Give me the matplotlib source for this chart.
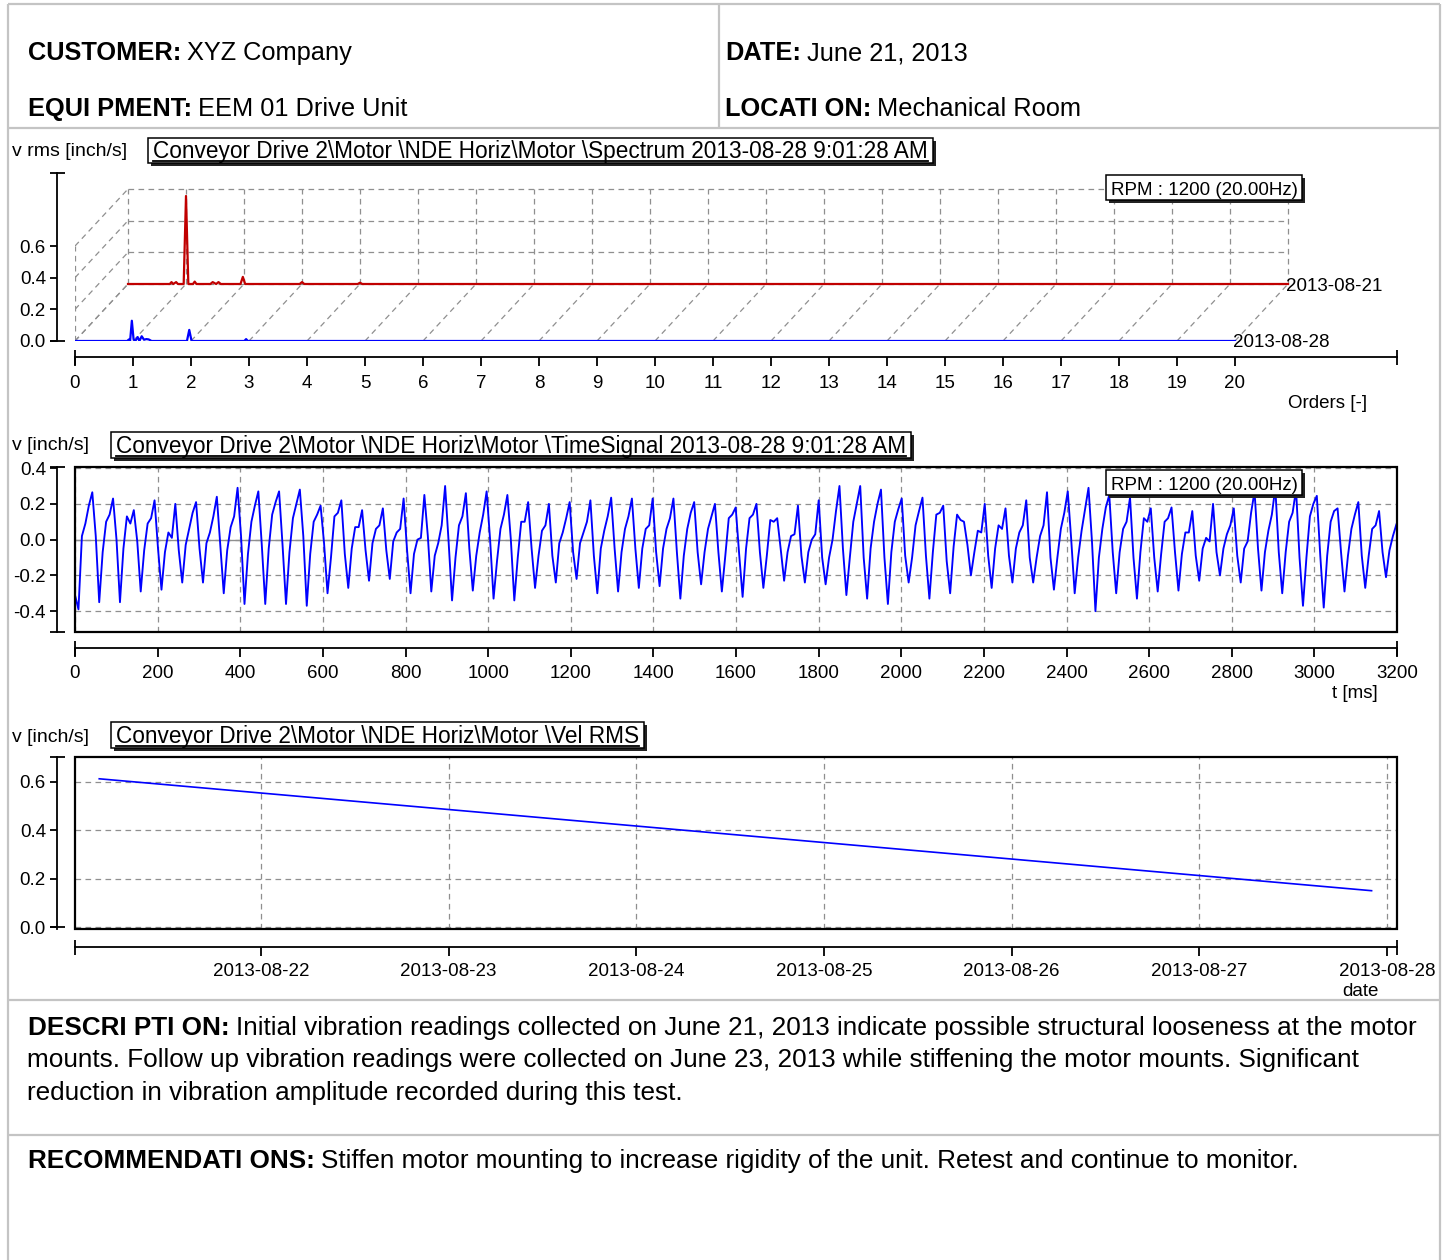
import numpy as np
import matplotlib
matplotlib.use("Agg")
import matplotlib.pyplot as plt
import matplotlib.dates as mdates
from matplotlib.patches import Rectangle
from matplotlib.ticker import FormatStrFormatter
from datetime import datetime

plt.rcParams['font.family'] = ['Liberation Sans', 'DejaVu Sans']
plt.rcParams['axes.unicode_minus'] = False

# ---------------- DATA ----------------
# header / report text
customer = "XYZ Company"
equipment = "EEM 01 Drive Unit"
report_date = "June 21, 2013"
location = "Mechanical Room"
description_lines = [
    "Initial vibration readings collected on June 21, 2013 indicate possible structural looseness at the motor",
    "mounts. Follow up vibration readings were collected on June 23, 2013 while stiffening the motor mounts. Significant",
    "reduction in vibration amplitude recorded during this test.",
]
recommendation = "Stiffen motor mounting to increase rigidity of the unit. Retest and continue to monitor."

title_spec = "Conveyor Drive 2\\Motor \\NDE Horiz\\Motor \\Spectrum 2013-08-28 9:01:28 AM"
title_time = "Conveyor Drive 2\\Motor \\NDE Horiz\\Motor \\TimeSignal 2013-08-28 9:01:28 AM"
title_rms = "Conveyor Drive 2\\Motor \\NDE Horiz\\Motor \\Vel RMS"
rpm_label = "RPM : 1200 (20.00Hz)"

# Spectrum (orders, v rms inch/s)
spec_yticks = [0.0, 0.2, 0.4, 0.6]
spec_xticks = list(range(0, 21))
spec_front_label = "2013-08-28"
spec_back_label = "2013-08-21"
blue_orders = [0, 0.90, 0.93, 0.95, 0.98, 1.01, 1.04, 1.08, 1.11, 1.15, 1.19, 1.23, 1.27, 1.32,
               1.93, 1.97, 2.01, 2.92, 2.95, 2.98, 20]
blue_amp = [0, 0, 0.01, 0.0, 0.128, 0.01, 0.0, 0.025, 0.0, 0.03, 0.008, 0.012, 0.01, 0,
            0, 0.07, 0, 0, 0.012, 0, 0]
red_orders = [0, 0.72, 0.75, 0.78, 0.83, 0.86, 0.89, 0.96, 1.0, 1.04, 1.12, 1.15, 1.18,
              1.42, 1.46, 1.52, 1.56, 1.6, 1.94, 1.98, 2.02, 2.96, 3.0, 3.04, 3.96, 4.0, 4.04, 20]
red_amp = [0, 0, 0.012, 0, 0.012, 0, 0, 0, 0.556, 0.0, 0, 0.015, 0,
           0, 0.012, 0, 0.012, 0, 0, 0.045, 0, 0, 0.012, 0, 0, 0.008, 0, 0]

# Time signal (v inch/s), sampled every 8.373 ms, rows = one shaft revolution
time_dt_ms = 8.373
time_yticks = [-0.4, -0.2, 0.0, 0.2, 0.4]
time_xticks = list(range(0, 3201, 200))
time_start = [-0.31]
time_cycles = [
    [-0.39, 0.02, 0.09, 0.19, 0.265, 0.02],
    [-0.35, -0.07, 0.10, 0.14, 0.23, 0.00],
    [-0.35, -0.05, 0.13, 0.09, 0.165, -0.01],
    [-0.29, -0.06, 0.09, 0.12, 0.22, -0.05],
    [-0.28, -0.07, 0.04, 0.01, 0.20, -0.06],
    [-0.24, -0.03, 0.06, 0.15, 0.21, -0.05],
    [-0.24, -0.02, 0.04, 0.13, 0.24, -0.03],
    [-0.30, -0.06, 0.07, 0.13, 0.29, 0.02],
    [-0.36, -0.08, 0.10, 0.19, 0.27, -0.03],
    [-0.36, -0.05, 0.14, 0.21, 0.27, -0.03],
    [-0.36, -0.07, 0.12, 0.20, 0.28, 0.02],
    [-0.37, -0.08, 0.10, 0.14, 0.19, -0.02],
    [-0.30, -0.10, 0.13, 0.15, 0.22, -0.08],
    [-0.27, -0.05, 0.07, 0.07, 0.165, -0.06],
    [-0.23, -0.02, 0.06, 0.08, 0.175, -0.06],
    [-0.22, -0.01, 0.04, 0.06, 0.23, -0.06],
    [-0.30, -0.08, 0.00, 0.01, 0.25, 0.02],
    [-0.29, -0.09, -0.02, 0.08, 0.30, -0.01],
    [-0.34, -0.10, 0.08, 0.13, 0.26, -0.05],
    [-0.285, -0.09, 0.04, 0.14, 0.27, 0.00],
    [-0.33, -0.12, 0.06, 0.14, 0.25, 0.00],
    [-0.34, -0.10, 0.10, 0.10, 0.21, -0.05],
    [-0.27, -0.09, 0.05, 0.08, 0.20, -0.09],
    [-0.24, -0.02, 0.04, 0.12, 0.21, -0.07],
    [-0.22, -0.02, 0.04, 0.10, 0.22, -0.09],
    [-0.30, -0.05, 0.05, 0.13, 0.235, -0.05],
    [-0.29, -0.07, 0.06, 0.13, 0.23, -0.05],
    [-0.27, -0.05, 0.06, 0.08, 0.23, -0.07],
    [-0.26, -0.05, 0.06, 0.12, 0.23, -0.07],
    [-0.33, -0.09, 0.06, 0.15, 0.21, -0.07],
    [-0.25, -0.07, 0.06, 0.13, 0.20, -0.07],
    [-0.29, -0.09, 0.12, 0.14, 0.18, -0.08],
    [-0.32, -0.05, 0.12, 0.14, 0.20, -0.07],
    [-0.27, -0.09, 0.11, 0.10, 0.12, -0.05],
    [-0.23, -0.07, 0.02, 0.03, 0.19, -0.09],
    [-0.24, -0.07, 0.00, 0.03, 0.22, -0.10],
    [-0.25, -0.10, 0.00, 0.16, 0.30, -0.05],
    [-0.31, -0.10, 0.10, 0.20, 0.30, -0.10],
    [-0.33, -0.05, 0.10, 0.20, 0.28, -0.10],
    [-0.36, -0.07, 0.10, 0.17, 0.23, -0.09],
    [-0.24, -0.10, 0.08, 0.16, 0.235, -0.09],
    [-0.33, -0.07, 0.14, 0.15, 0.19, -0.12],
    [-0.30, -0.04, 0.14, 0.11, 0.10, -0.03],
    [-0.20, -0.07, 0.05, 0.04, 0.20, -0.09],
    [-0.27, -0.05, 0.08, 0.06, 0.175, -0.09],
    [-0.24, -0.05, 0.04, 0.08, 0.22, -0.10],
    [-0.24, -0.10, 0.02, 0.08, 0.265, -0.10],
    [-0.28, -0.10, 0.06, 0.15, 0.27, 0.00],
    [-0.30, -0.10, 0.05, 0.17, 0.29, -0.01],
    [-0.40, -0.10, 0.06, 0.18, 0.25, -0.07],
    [-0.30, -0.07, 0.06, 0.10, 0.235, -0.10],
    [-0.33, -0.07, 0.12, 0.10, 0.175, -0.10],
    [-0.29, -0.08, 0.10, 0.12, 0.18, -0.07],
    [-0.285, -0.08, 0.04, 0.04, 0.16, -0.09],
    [-0.23, -0.05, 0.01, -0.01, 0.20, -0.07],
    [-0.20, -0.05, 0.03, 0.08, 0.175, -0.09],
    [-0.24, -0.05, -0.01, 0.15, 0.27, -0.05],
    [-0.285, -0.07, 0.05, 0.14, 0.29, -0.07],
    [-0.30, -0.07, 0.10, 0.15, 0.28, -0.10],
    [-0.37, -0.10, 0.13, 0.20, 0.245, -0.09],
    [-0.38, -0.09, 0.10, 0.16, 0.175, -0.07],
    [-0.29, -0.09, 0.06, 0.14, 0.21, -0.09],
    [-0.27, -0.09, 0.06, 0.08, 0.16, -0.07],
]
time_end = [-0.21, -0.06, 0.02, 0.085]

# Vel RMS trend
rms_dates = ["2013-08-21 03:19", "2013-08-27 22:02"]
rms_values = [0.612, 0.151]
rms_yticks = [0.0, 0.2, 0.4, 0.6]
rms_xlim = ["2013-08-21 00:13", "2013-08-28 01:17"]

# ---------------- LAYOUT ----------------
W, H = 1447, 1260
PX = 72.0 / 100.0          # points per pixel
fig = plt.figure(figsize=(W / 100, H / 100), dpi=100)


def px_axes(x0, y0, x1, y1, **kw):
    return fig.add_axes([x0 / W, 1 - y1 / H, (x1 - x0) / W, (y1 - y0) / H], **kw)


GRID = dict(color='#8f8f8f', lw=0.9, ls=(0, (4.5, 3.5)))
TICKFS = 13.5
BLUE = '#0000ff'
RED = '#c00000'


def style_axes(ax, left_out, bottom_out, ylim, xlim, ycap_lo=None, xpad=8):
    ax.set_facecolor('none')
    ax.set_ylim(*ylim)
    ax.set_xlim(*xlim)
    ax.spines['top'].set_visible(False)
    ax.spines['right'].set_visible(False)
    ax.spines['left'].set_position(('outward', left_out * PX))
    ax.spines['bottom'].set_position(('outward', bottom_out * PX))
    for s in ('left', 'bottom'):
        ax.spines[s].set_linewidth(1.3)
    ax.xaxis.remove_overlapping_locs = False
    ax.yaxis.remove_overlapping_locs = False
    ax.set_yticks([ylim[0] if ycap_lo is None else ycap_lo, ylim[1]], minor=True)
    ax.set_xticks([xlim[0], xlim[1]], minor=True)
    ax.tick_params(which='major', direction='out', width=1.3, labelsize=TICKFS)
    ax.tick_params(axis='y', which='major', length=7 * PX, pad=4 * PX)
    ax.tick_params(axis='x', which='major', length=9 * PX, pad=xpad * PX)
    ax.tick_params(which='minor', direction='inout', length=15 * PX, width=1.3)


# ---- Spectrum (pseudo 3D waterfall) ----
ax1 = px_axes(75, 173, 1397, 341)
spec_xmax = 1322 / 58.0
spec_ymax = 168 / 158.3
style_axes(ax1, 18, 16, (0, spec_ymax), (0, spec_xmax), ycap_lo=0, xpad=9)
ax1.set_yticks(spec_yticks)
ax1.yaxis.set_major_formatter(FormatStrFormatter('%.1f'))
ax1.set_xticks(spec_xticks)
dx, dy = 53 / 58.0, 57 / 158.3      # depth offset of the back trace
top_lv = spec_yticks[-1]
nmax = spec_xticks[-1]
for k in spec_xticks:
    ax1.plot([k + dx, k + dx], [dy, dy + top_lv], **GRID, zorder=1)
    ax1.plot([k, k + dx], [0, dy], **GRID, zorder=1)
for lv in spec_yticks:
    ax1.plot([dx, nmax + dx], [dy + lv, dy + lv], **GRID, zorder=1)
    ax1.plot([0, dx], [lv, lv + dy], **GRID, zorder=1)
ax1.plot([0, 0], [0, top_lv], **GRID, zorder=1)
ax1.plot(np.array(red_orders) + dx, np.array(red_amp) + dy, color=RED, lw=1.6, zorder=3)
ax1.plot(blue_orders, blue_amp, color=BLUE, lw=1.6, zorder=4)
ax1.annotate(spec_back_label, (nmax + dx, dy), xytext=(-2 * PX, -3 * PX), textcoords='offset points',
             fontsize=TICKFS, ha='left', va='center', zorder=5, annotation_clip=False)
ax1.annotate(spec_front_label, (nmax, 0), xytext=(-2 * PX, -2 * PX), textcoords='offset points',
             fontsize=TICKFS, ha='left', va='center', zorder=5, annotation_clip=False)

# ---- Time signal ----
ax2 = px_axes(75, 466.7, 1397, 631.7)
style_axes(ax2, 18, 16.6, (-0.515, 0.408), (0, 3200), xpad=8)
ax2.set_yticks(time_yticks)
ax2.yaxis.set_major_formatter(FormatStrFormatter('%.1f'))
ax2.set_xticks(time_xticks)
ax2.set_axisbelow(True)
ax2.grid(True, which='major', **GRID)
ax2.axhline(0, color='#8f8f8f', lw=1.0, zorder=1)
vals = np.array(time_start + [v for row in time_cycles for v in row] + time_end)
t = np.arange(len(vals)) * time_dt_ms
ax2.plot(t, vals, color=BLUE, lw=1.35, zorder=3)
ax2.add_patch(Rectangle((0, 0), 1, 1, transform=ax2.transAxes, fill=False,
                        ec='k', lw=1.6, clip_on=False, zorder=5))

# ---- Vel RMS trend ----
ax3 = px_axes(75, 756.7, 1397, 929.3)
xl = [mdates.date2num(datetime.strptime(s, "%Y-%m-%d %H:%M")) for s in rms_xlim]
style_axes(ax3, 18, 17.4, (-0.008, 0.703), (xl[0], xl[1]), ycap_lo=0, xpad=7)
ax3.set_yticks(rms_yticks)
ax3.yaxis.set_major_formatter(FormatStrFormatter('%.1f'))
ax3.xaxis.set_major_locator(mdates.DayLocator())
ax3.xaxis.set_major_formatter(mdates.DateFormatter('%Y-%m-%d'))
ax3.set_axisbelow(True)
ax3.grid(True, which='major', **GRID)
rd = [datetime.strptime(s, "%Y-%m-%d %H:%M") for s in rms_dates]
ax3.plot(rd, rms_values, color=BLUE, lw=1.2, zorder=3)
ax3.add_patch(Rectangle((0, 0), 1, 1, transform=ax3.transAxes, fill=False,
                        ec='k', lw=1.6, clip_on=False, zorder=5))

# ---- overlay for page layout (pixel coordinates) ----
ov = fig.add_axes([0, 0, 1, 1], zorder=10)
ov.set_xlim(0, W)
ov.set_ylim(H, 0)
ov.axis('off')
ov.patch.set_alpha(0)

BORDER = dict(color='#c4c4c4', lw=1.6, solid_capstyle='butt')
ov.plot([8, 1440], [4, 4], **BORDER)
ov.plot([8, 8], [4, H], **BORDER)
ov.plot([1440, 1440], [4, H], **BORDER)
ov.plot([719, 719], [4, 128], **BORDER)
for yy in (128, 1000, 1135):
    ov.plot([8, 1440], [yy, yy], **BORDER)

HFS = 18.3
DFS = 18.8
pairs = []   # (bold text artist, regular string, y)


def bold_pair(x, y, bold, regular, fs=HFS):
    tb = ov.text(x, y, bold, fontsize=fs, fontweight='bold', ha='left', va='baseline')
    pairs.append((tb, regular, y, fs))


bold_pair(28, 60, "CUSTOMER:", customer)
bold_pair(28, 116, "EQUI PMENT:", equipment)
bold_pair(725, 60, "DATE:", report_date)
bold_pair(725, 116, "LOCATI ON:", location)
bold_pair(28, 1035, "DESCRI PTI ON:", description_lines[0], DFS)
ov.text(27, 1067, description_lines[1], fontsize=DFS, ha='left', va='baseline')
ov.text(27, 1100, description_lines[2], fontsize=DFS, ha='left', va='baseline')
bold_pair(28, 1168, "RECOMMENDATI ONS:", recommendation, DFS)

# axis unit labels
ov.text(12, 152, "v rms [inch/s]", fontsize=14, ha='left', va='center')
ov.text(12, 446, "v [inch/s]", fontsize=14, ha='left', va='center')
ov.text(12, 737, "v [inch/s]", fontsize=14, ha='left', va='center')
ov.text(1328, 403, "Orders [-]", fontsize=TICKFS, ha='center', va='center')
ov.text(1355, 693, "t [ms]", fontsize=TICKFS, ha='center', va='center')
ov.text(1360, 991, "date", fontsize=TICKFS, ha='center', va='center')

boxes = []   # (text, ytop, ybot, underline)
tt = ov.text(153, 158, title_spec, fontsize=16.3, ha='left', va='baseline', zorder=6)
boxes.append((tt, 138, 163, True))
tt = ov.text(116, 453, title_time, fontsize=16.3, ha='left', va='baseline', zorder=6)
boxes.append((tt, 432, 458, True))
tt = ov.text(116, 743, title_rms, fontsize=16.3, ha='left', va='baseline', zorder=6)
boxes.append((tt, 722, 748, True))
tt = ov.text(1204, 195, rpm_label, fontsize=13.5, ha='center', va='baseline', zorder=6)
boxes.append((tt, 175, 200, False))
tt = ov.text(1204, 490, rpm_label, fontsize=13.5, ha='center', va='baseline', zorder=6)
boxes.append((tt, 470, 495, False))

fig.canvas.draw()
rend = fig.canvas.get_renderer()
inv = ov.transData.inverted()

for tb, reg, y, fs in pairs:
    bb = tb.get_window_extent(rend)
    x1 = inv.transform((bb.x1, bb.y0))[0]
    tr = ov.text(x1 + 6, y, reg, fontsize=fs, ha='left', va='baseline')
    tr.set_clip_on(True)
    tr.set_clip_path(Rectangle((0, 0), 1440, H, transform=ov.transData))

for tt, ytop, ybot, ul in boxes:
    bb = tt.get_window_extent(rend)
    x0 = inv.transform((bb.x0, bb.y0))[0] - 5
    x1 = inv.transform((bb.x1, bb.y0))[0] + 5
    ov.add_patch(Rectangle((x0 + 3, ytop + 3), x1 - x0, ybot - ytop, fc='#222222', ec='none', zorder=4))
    ov.add_patch(Rectangle((x0, ytop), x1 - x0, ybot - ytop, fc='white', ec='black', lw=1.1, zorder=5))
    if ul:
        by = tt.get_position()[1] + 2.5
        ov.plot([x0 + 5, x1 - 5], [by, by], color='black', lw=1.3, zorder=7)

fig.savefig("out.png", dpi=100)
